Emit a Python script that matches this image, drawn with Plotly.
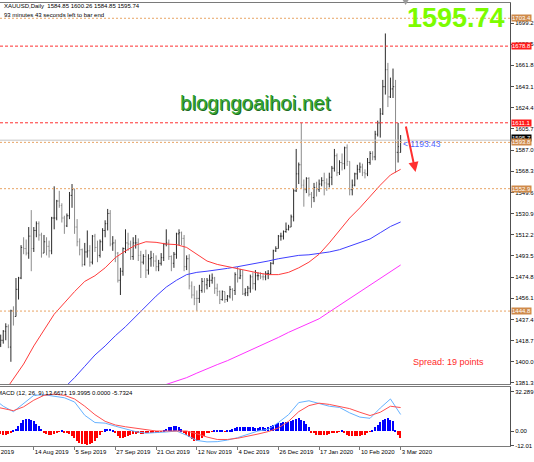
import pandas as pd
import plotly.graph_objects as go
from plotly.subplots import make_subplots

# one bar per weekday on this feed (25 Dec and 1 Jan have bars too)
bar_days = pd.bdate_range("2019-07-23", "2020-03-03").strftime("%Y-%m-%d").tolist()
ohlc_days = bar_days[2:]  # first bar drawn: 25 Jul 2019

opens = [1425, 1415, 1419, 1427, 1431, 1413, 1445, 1440, 1464, 1474, 1501, 1500, 1496, 1511, 1500, 1516,
         1522, 1512, 1496, 1506, 1502, 1498, 1527, 1527, 1542, 1538, 1527, 1520, 1529, 1547, 1552, 1519,
         1506, 1499, 1486, 1497, 1498, 1488, 1511, 1501, 1494, 1506, 1516, 1522, 1531, 1504, 1505, 1496,
         1472, 1480, 1500, 1505, 1504, 1493, 1505, 1505, 1494, 1488, 1493, 1481, 1491, 1492, 1489, 1484,
         1487, 1492, 1504, 1505, 1493, 1487, 1495, 1513, 1514, 1509, 1484, 1491, 1467, 1459, 1456, 1456,
         1463, 1471, 1468, 1472, 1472, 1474, 1465, 1462, 1455, 1462, 1455, 1458, 1464, 1463, 1477, 1474,
         1476, 1460, 1461, 1465, 1475, 1469, 1476, 1476, 1475, 1475, 1478, 1478, 1487, 1498, 1500, 1511,
         1511, 1515, 1517, 1519, 1528, 1551, 1566, 1574, 1556, 1552, 1562, 1548, 1545, 1554, 1552, 1557,
         1560, 1558, 1557, 1563, 1571, 1582, 1567, 1576, 1575, 1589, 1577, 1552, 1556, 1566, 1570, 1572,
         1567, 1566, 1576, 1584, 1581, 1601, 1611, 1619, 1643, 1658, 1634, 1641, 1643, 1585, 1584.85]
highs = [1427, 1424, 1428, 1434, 1433, 1446, 1449, 1474, 1475, 1503, 1510, 1508, 1519, 1534, 1519, 1524,
         1524, 1514, 1512, 1510, 1507, 1528, 1555, 1543, 1551, 1540, 1529, 1531, 1550, 1557, 1553, 1526,
         1509, 1500, 1505, 1516, 1503, 1512, 1513, 1507, 1508, 1518, 1525, 1535, 1534, 1511, 1508, 1497,
         1483, 1501, 1517, 1514, 1507, 1510, 1512, 1509, 1498, 1495, 1499, 1495, 1498, 1496, 1494, 1490,
         1496, 1505, 1517, 1508, 1494, 1497, 1514, 1517, 1515, 1512, 1494, 1495, 1471, 1467, 1463, 1468,
         1474, 1474, 1474, 1477, 1478, 1475, 1469, 1463, 1463, 1462, 1459, 1467, 1465, 1479, 1484, 1482,
         1481, 1465, 1467, 1477, 1479, 1481, 1479, 1479, 1478, 1480, 1481, 1488, 1499, 1502, 1512, 1514,
         1516, 1523, 1521, 1530, 1553, 1588, 1576, 1611, 1561, 1563, 1563, 1550, 1558, 1559, 1561, 1563,
         1567, 1562, 1567, 1573, 1588, 1584, 1578, 1584, 1590, 1592, 1577, 1561, 1567, 1574, 1576, 1575,
         1570, 1580, 1586, 1586, 1604, 1613, 1624, 1649, 1690, 1664, 1651, 1659, 1649, 1611, 1600.26]
lows = [1413, 1413, 1416, 1419, 1412, 1400, 1432, 1440, 1455, 1473, 1495, 1494, 1491, 1480, 1497, 1510,
        1507, 1492, 1496, 1494, 1492, 1495, 1517, 1525, 1536, 1523, 1513, 1519, 1526, 1536, 1513, 1502,
        1494, 1484, 1485, 1492, 1484, 1486, 1497, 1488, 1492, 1498, 1510, 1516, 1502, 1498, 1488, 1470,
        1459, 1476, 1496, 1498, 1490, 1490, 1500, 1489, 1474, 1486, 1474, 1477, 1484, 1484, 1480, 1480,
        1485, 1489, 1502, 1490, 1480, 1483, 1491, 1503, 1503, 1480, 1481, 1464, 1456, 1450, 1445, 1452,
        1461, 1461, 1464, 1466, 1469, 1460, 1458, 1451, 1454, 1452, 1453, 1456, 1454, 1459, 1470, 1473,
        1459, 1458, 1458, 1461, 1464, 1463, 1472, 1473, 1472, 1472, 1473, 1477, 1486, 1497, 1500, 1507,
        1508, 1514, 1516, 1519, 1524, 1550, 1557, 1553, 1537, 1549, 1546, 1536, 1541, 1546, 1550, 1555,
        1547, 1551, 1554, 1556, 1568, 1564, 1565, 1569, 1570, 1573, 1547, 1547, 1555, 1561, 1567, 1564,
        1562, 1564, 1574, 1578, 1578, 1599, 1598, 1618, 1636, 1625, 1633, 1633, 1567, 1576, 1584.85]
closes = [1415, 1419, 1427, 1431, 1413, 1445, 1440, 1464, 1474, 1501, 1500, 1496, 1511, 1500, 1516, 1522,
          1512, 1496, 1506, 1502, 1498, 1527, 1527, 1542, 1538, 1527, 1520, 1529, 1547, 1552, 1519, 1506,
          1499, 1486, 1497, 1498, 1488, 1511, 1501, 1494, 1506, 1516, 1522, 1531, 1504, 1505, 1496, 1472,
          1480, 1500, 1505, 1504, 1493, 1505, 1505, 1494, 1488, 1493, 1481, 1491, 1492, 1489, 1484, 1487,
          1492, 1504, 1505, 1493, 1487, 1495, 1513, 1514, 1509, 1484, 1491, 1467, 1459, 1456, 1456, 1463,
          1471, 1468, 1472, 1472, 1474, 1465, 1462, 1455, 1462, 1455, 1458, 1464, 1463, 1477, 1474, 1476,
          1460, 1461, 1465, 1475, 1469, 1476, 1476, 1475, 1475, 1478, 1478, 1487, 1498, 1500, 1511, 1511,
          1515, 1517, 1519, 1528, 1551, 1566, 1574, 1556, 1552, 1562, 1548, 1545, 1554, 1552, 1557, 1560,
          1558, 1557, 1563, 1571, 1582, 1567, 1576, 1575, 1589, 1577, 1552, 1556, 1566, 1570, 1572, 1567,
          1566, 1576, 1584, 1581, 1601, 1611, 1619, 1643, 1658, 1634, 1641, 1643, 1585, 1590, 1595.74]

# moving averages and MACD lines, read every 4th bar
line_days = ["2019-07-25", "2019-07-29", "2019-08-02", "2019-08-08", "2019-08-14", "2019-08-20",
             "2019-08-26", "2019-08-30", "2019-09-05", "2019-09-11", "2019-09-17", "2019-09-23",
             "2019-09-27", "2019-10-03", "2019-10-09", "2019-10-15", "2019-10-21", "2019-10-25",
             "2019-10-31", "2019-11-06", "2019-11-12", "2019-11-18", "2019-11-22", "2019-11-28",
             "2019-12-04", "2019-12-10", "2019-12-16", "2019-12-20", "2019-12-26", "2020-01-01",
             "2020-01-07", "2020-01-13", "2020-01-17", "2020-01-23", "2020-01-29", "2020-02-04",
             "2020-02-10", "2020-02-14", "2020-02-20", "2020-02-26", "2020-03-03"]
ma_red = [None, 1372, 1385, 1398, 1414, 1428, 1442, 1452, 1462, 1471, 1476, 1483, 1492, 1498, 1503,
          1506, 1505.5, 1504, 1503.5, 1501, 1495, 1489, 1486, 1484, 1482, 1480, 1478.5, 1477, 1477,
          1479, 1483, 1488, 1495, 1505, 1516, 1527, 1536, 1546, 1556, 1565, 1570]
ma_blue = [None, None, None, None, None, None, 1368, 1377, 1386, 1396, 1406, 1414, 1423, 1431, 1440,
           1449, 1458, 1466, 1472, 1477, 1479, 1480, 1481, 1482.5, 1484, 1485.5, 1487, 1489, 1491,
           1492.5, 1494, 1494.5, 1495.5, 1497, 1499, 1502, 1505, 1508.5, 1514, 1519.5, 1523.5]
ma_magenta = [None] * 16 + [1377, 1380, 1383, 1386, 1390, 1394, 1397.5, 1401, 1405, 1409, 1413.5,
                            1417.5, 1421.5, 1426, 1430, 1434, 1438, 1444, 1450, 1456, 1462, 1468, 1474,
                            1480, 1485.5]
macd_main = [23.8, 20.5, 16, 23, 29.5, 30, 28.5, 27.5, 24, 13, 7, 6.5, 4, 1.5, -0.5, -1.8, -1.5, -0.8,
             0, -3.5, -7.8, -9, -8.8, -7.5, -5.5, -3, 0, 1.4, 7, 13.5, 23.5, 25, 22.5, 20.5, 19.5, 15,
             11.5, 10.5, 19, 26.5, 13.6671]
macd_signal = [19.5, 18.5, 16.8, 20, 25.5, 29.5, 30.5, 29.5, 26.5, 20.5, 13.5, 8, 5, 3.5, 2.3, 1, 0, 0,
               0, 0, -2.3, -5, -7, -7, -6, -4.5, -2.5, -0.5, 2.5, 8, 16, 21, 23, 22, 20.5, 18.5, 15.5,
               12.8, 15.5, 20.5, 19.3995]
macd_hist = [-2, -2.5, -3, -3, -2.5, -1.5,
             0.5, 2, 4.5, 7, 9, 10, 10.2, 9.5, 8, 6, 4, 2,
             -1, -2.5, -3, -3, -2.5, -1.5, -0.5, 0.5, -1, -2, -2.5,
             -4, -6, -8, -9.5, -10.5, -11, -11.2, -11, -10, -8, -5.5, -3,
             -0.5, 1.5, 2, 2, 1,
             -2, -4, -5.5, -5.5, -5, -4, -3,
             -2.5, -2.5, -2, -2.5, -2.5, -2, -2, -1.5, -1.5, -1, -1, -0.5,
             1, 2, 3, 3.5, 4.5, 4, 3, 1.5,
             -1, -3, -5, -7, -8, -8, -7.5, -6, -4, -2,
             -1, -0.5, 0.3, 0.5, 0.3, 0.5, -0.3, 0.3, 0.8,
             1.5, 2.5, 3, 3.5, 3.5, 3, 3, 3, 3, 2.8, 2.8, 3, 3, 2.8, 3,
             4, 5, 6, 7, 7, 7.5, 7.5, 7.5, 8, 9, 10, 10.5, 9.5, 8, 6, 3,
             -1, -2, -3, -3, -3, -3, -3, -2.5, -2, -1.5, -1, -0.5,
             0.8,
             -1, -3, -4, -4.5, -4.5, -4.5, -4, -3.5, -3, -2, -0.5,
             1, 3, 5, 7.5, 9, 10, 10.5, 9.5, 8,
             0.8, -3, -5.7324]

tick_days = ["2019-08-14", "2019-09-05", "2019-09-27", "2019-10-21", "2019-11-12", "2019-12-04",
             "2019-12-26", "2020-01-17", "2020-02-10", "2020-03-03"]
tick_text = ["14 Aug 2019", "5 Sep 2019", "27 Sep 2019", "21 Oct 2019", "12 Nov 2019", "4 Dec 2019",
             "26 Dec 2019", "17 Jan 2020", "10 Feb 2020", "3 Mar 2020"]
price_ticks = [1381.3, 1400.0, 1418.7, 1437.4, 1456.1, 1474.8, 1493.5, 1512.2, 1530.9, 1549.6,
               1568.3, 1587.0, 1605.7, 1624.4, 1643.1, 1661.8, 1680.5, 1699.2]
orange_levels = [1703.4, 1593.8, 1552.9, 1444.8]
red_levels = [1678.8, 1611.1]
bid = 1595.74

AXIS = "#7a7a7a"
W, TOP, BOTTOM = 513, 3, 446


def px(x):
    return x / W


def py(y):
    return (BOTTOM - y) / (BOTTOM - TOP)


fig = make_subplots(rows=2, cols=1, shared_xaxes=True, vertical_spacing=0.0)

fig.add_trace(go.Ohlc(x=ohlc_days, open=opens, high=highs, low=lows, close=closes,
                      increasing_line_color="#2a2a2a", decreasing_line_color="#8c8c8c",
                      line_width=1, tickwidth=0.35, hoverinfo="skip"), row=1, col=1)
for vals, col in [(ma_magenta, "#ff33ff"), (ma_blue, "#3f3fff"), (ma_red, "#ff3b3b")]:
    fig.add_trace(go.Scatter(x=line_days, y=vals, mode="lines", line=dict(color=col, width=1),
                             hoverinfo="skip"), row=1, col=1)

fig.add_trace(go.Bar(x=ohlc_days, y=macd_hist, width=0.55,
                     marker=dict(color=["#0000ff" if v >= 0 else "#ff0000" for v in macd_hist],
                                 line_width=0), hoverinfo="skip"), row=2, col=1)
fig.add_trace(go.Scatter(x=line_days, y=macd_main, mode="lines", line=dict(color="#66b2ff", width=1),
                         hoverinfo="skip"), row=2, col=1)
fig.add_trace(go.Scatter(x=line_days, y=macd_signal, mode="lines", line=dict(color="#ff4f4f", width=1),
                         hoverinfo="skip"), row=2, col=1)

# support / resistance lines
for lv in orange_levels:
    fig.add_shape(type="line", xref="paper", x0=0, x1=1, yref="y", y0=lv, y1=lv,
                  line=dict(color="#e8a464", width=1, dash="2px,2px"))
for lv in red_levels:
    fig.add_shape(type="line", xref="paper", x0=0, x1=1, yref="y", y0=lv, y1=lv,
                  line=dict(color="#ff3030", width=1, dash="3px,2px"))
fig.add_shape(type="line", xref="paper", x0=0, x1=1, yref="y", y0=bid, y1=bid,
              line=dict(color="#c4c4c4", width=1))
fig.add_shape(type="path", xref="paper", yref="paper",
              path=f"M {px(405)} {py(0)} L {px(411)} {py(0)} L {px(408)} {py(5)} Z",
              fillcolor="#9a9a9a", line_width=0)

small = dict(family="Liberation Sans, Arial", size=6, color="black")
notes = [
    dict(x=px(2), y=py(1), text="XAUUSD,Daily\u00a0 1584.85 1600.26 1584.85 1595.74",
         xanchor="left", yanchor="top", font=small),
    dict(x=px(2), y=py(10), text="93 minutes 43 seconds left to bar end",
         xanchor="left", yanchor="top", font=small),
    dict(x=px(510), y=py(18), text="1595.74", xanchor="right", yanchor="middle",
         font=dict(family="Liberation Sans, Arial", size=27, color="#7cfc00", weight="bold")),
    dict(x=px(257), y=py(102), text="blogngoaihoi.net", xanchor="center", yanchor="middle",
         font=dict(family="Liberation Sans, Arial", size=20.5, color="#34a834",
                   shadow="1px 1px 0px #1c6a1c")),
    dict(x=px(413), y=py(362), text="Spread: 19 points", xanchor="left", yanchor="middle",
         font=dict(family="Liberation Sans, Arial", size=9, color="#ff2a2a")),
    dict(x=px(403), y=py(144), text="&lt; 1193:43", xanchor="left", yanchor="middle",
         font=dict(family="Liberation Sans, Arial", size=8.5, color="#4d66ff")),
    dict(x=px(-5), y=py(393), text="MACD (12, 26, 9) 13.6671 19.3995 0.0000 -5.7324",
         xanchor="left", yanchor="middle", font=small),
    dict(x=px(17), y=py(452), text="23 Jul 2019", xanchor="right", yanchor="middle", font=small),
    dict(x=px(418), y=py(172), text="", showarrow=True, ax=-10, ay=-47, arrowhead=2,
         arrowsize=1, arrowwidth=2, arrowcolor="#ff3030", standoff=0),
]
box_font = dict(family="Liberation Sans, Arial", size=6, color="white")
notes.append(dict(x=1, y=bid, yref="y", text=f"{bid:.1f}", bgcolor="black", font=box_font,
                  xanchor="left", yanchor="middle", xshift=1, yshift=2, borderpad=0))
for lv in orange_levels:
    notes.append(dict(x=1, y=lv, yref="y", text=f"{lv:.1f}", bgcolor="#cf8a4a", font=box_font,
                      xanchor="left", yanchor="middle", xshift=1, borderpad=0))
for lv in red_levels:
    notes.append(dict(x=1, y=lv, yref="y", text=f"{lv:.1f}", bgcolor="#ff1a1a", font=box_font,
                      xanchor="left", yanchor="middle", xshift=1, borderpad=0))
for a in notes:
    a.setdefault("xref", "paper")
    a.setdefault("yref", "paper")
    a.setdefault("showarrow", False)
    fig.add_annotation(**a)

fig.update_layout(
    width=534, height=462,
    margin=dict(l=0, r=21, t=TOP, b=462 - BOTTOM),
    paper_bgcolor="white", plot_bgcolor="white",
    showlegend=False, bargap=0,
    font=small,
    yaxis=dict(domain=[0.140, 1]),
    yaxis2=dict(domain=[0, 0.1332]),
)
fig.update_xaxes(type="category", categoryorder="array", categoryarray=bar_days,
                 range=[2.73, 202.93], showgrid=False, zeroline=False,
                 showline=True, linecolor=AXIS, linewidth=1, mirror=True,
                 rangeslider_visible=False)
fig.update_xaxes(showticklabels=False, ticks="", row=1, col=1)
fig.update_xaxes(tickvals=tick_days, ticktext=tick_text, ticks="outside", ticklen=3, tickangle=0,
                 tickcolor=AXIS, ticklabelposition="outside right", tickfont=small, row=2, col=1)
fig.update_yaxes(side="right", showgrid=False, zeroline=False, showline=True, linecolor="#505050",
                 ticks="outside", ticklen=3, tickcolor="#505050", tickfont=small)
fig.update_yaxes(range=[1380.4, 1716.9], tickvals=price_ticks, tickformat=".1f", row=1, col=1)
fig.update_yaxes(range=[-12.4, 36.4], tickvals=[32.289, 0, -12.01],
                 ticktext=["32.289", "0.00", "-12.01"], row=2, col=1)

# the page's default 8px body margin would shift the whole chart
fig.write_html("out.html", config={"displayModeBar": False},
               post_script="document.body.style.margin='0';"
                           "document.documentElement.style.overflow='hidden';")
